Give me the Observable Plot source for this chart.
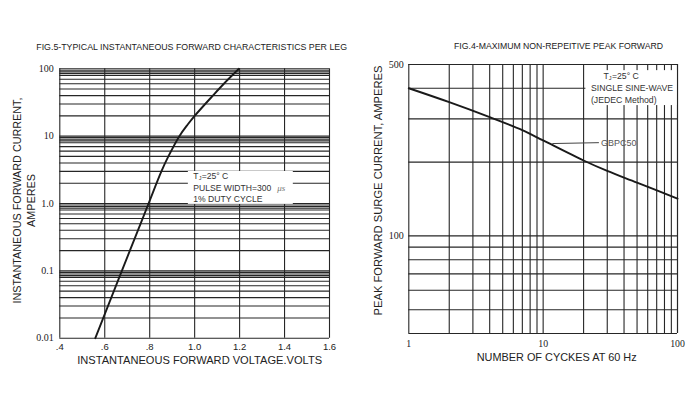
<!DOCTYPE html>
<html><head><meta charset="utf-8">
<script src="https://cdn.jsdelivr.net/npm/d3@7"></script>
<script src="https://cdn.jsdelivr.net/npm/@observablehq/plot@0.6"></script>
<style>
body{margin:0;background:#fff}
#wrap{position:relative;width:700px;height:404px;background:#fff}
#left,#right{position:absolute;top:0}
#left{left:0}#right{left:350px}
</style></head><body>
<div id="wrap"><div id="left"></div><div id="right"></div></div>
<script>
// ---- Fig.5 data ----
const voltage = [0.558, 0.676, 0.733, 0.795, 0.852, 0.883, 0.932, 0.970, 1.0, 1.081, 1.130, 1.197];
const current = [0.01, 0.1, 0.3, 1, 3, 5, 10, 15, 20, 40, 60, 100];
const leftXTicks = [0.4, 0.6, 0.8, 1.0, 1.2, 1.4, 1.6];
const leftXLabels = [".4", ".6", ".8", "1.0", "1.2", "1.4", "1.6"];
const leftYTicks = [0.01, 0.1, 1, 10, 100];
const leftYLabels = ["0.01", "0.1", "1.0", "10", "100"];
const leftDecades = [0.01, 0.1, 1, 10];
const leftGridMult = [1, 2, 3, 4, 5, 6, 7, 8, 8.5, 9, 9.5];

// ---- Fig.4 data ----
const cycles = [1, 2, 4, 7, 10, 20, 30, 50, 100];
const surge = [400, 351, 305, 270, 245, 203, 184, 165, 142];
const rightXTicks = [1, 10, 100];
const rightXLabels = ["1", "10", "100"];
const rightYTicks = [100, 500];
const rightYLabels = ["100", "500"];
const rightGridX = [1, 2, 3, 4, 5, 6, 7, 8, 9, 10, 20, 30, 40, 50, 60, 70, 80, 90, 100];
const rightGridY = [50, 60, 70, 80, 90, 100, 200, 300, 400, 500];

const sans = "'Liberation Sans', Arial, sans-serif";
const serif = "'Liberation Serif', 'Times New Roman', serif";
const gridCol = "#262626";
const txtCol = "#222";

const leftGridY = leftDecades.flatMap(d => leftGridMult.map(m => d * m)).concat([100]);
const leftCurve = voltage.map((v, i) => ({v, i: current[i]}));
const rightCurve = cycles.map((c, i) => ({c, s: surge[i]}));

const left = Plot.plot({
  width: 350, height: 404,
  marginLeft: 59.3, marginRight: 21, marginTop: 68.3, marginBottom: 66.3,
  x: {domain: [0.4, 1.6], axis: null},
  y: {type: "log", domain: [0.01, 100], axis: null},
  style: {fontFamily: sans, background: "white", color: txtCol},
  marks: [
    Plot.ruleX(leftXTicks, {stroke: gridCol, strokeWidth: 1.1}),
    Plot.ruleY(leftGridY, {stroke: gridCol, strokeWidth: 1.1}),
    Plot.rect([0], {x1: 0.972, x2: 1.439, y1: 0.97, y2: 2.99, fill: "white"}),
    Plot.line(leftCurve, {x: "v", y: "i", stroke: "#1a1a1a", strokeWidth: 1.9, curve: "catmull-rom"}),
    Plot.text(["T"], {x: 0.994, y: 2.52, textAnchor: "start", fontSize: 8.6, fill: "#333"}),
    Plot.text(["J"], {x: 0.994, y: 2.52, dx: 5.4, dy: 2, textAnchor: "start", fontSize: 5.5, fill: "#333"}),
    Plot.text(["=25° C"], {x: 0.994, y: 2.52, dx: 8.4, textAnchor: "start", fontSize: 8.6, fill: "#333"}),
    Plot.text(["PULSE WIDTH=300"], {x: 0.994, y: 2.52, dy: 11.8, textAnchor: "start", fontSize: 8.6, fill: "#333"}),
    Plot.text(["μs"], {x: 0.994, y: 2.52, dx: 84, dy: 11.8, textAnchor: "start", fontSize: 9, fontStyle: "italic", fontFamily: serif, fill: "#777"}),
    Plot.text(["1% DUTY CYCLE"], {x: 0.994, y: 2.52, dy: 23.2, textAnchor: "start", fontSize: 8.6, fill: "#333"}),
    Plot.text(leftYTicks, {y: d => d, text: leftYLabels, frameAnchor: "left", textAnchor: "end", lineAnchor: "middle", dx: -6, fontFamily: serif, fontSize: 10}),
    Plot.text(leftXTicks, {x: d => d, text: leftXLabels, frameAnchor: "bottom", lineAnchor: "middle", dy: 9, fontSize: 9.5}),
    Plot.text(["FIG.5-TYPICAL INSTANTANEOUS FORWARD CHARACTERISTICS PER LEG"], {frameAnchor: "top", textAnchor: "middle", lineAnchor: "middle", dy: -22, dx: -3, fontSize: 8.8}),
    Plot.text(["INSTANTANEOUS FORWARD CURRENT,"], {frameAnchor: "left", textAnchor: "middle", lineAnchor: "middle", rotate: -90, dx: -42.6, dy: -3, fontSize: 10.8}),
    Plot.text(["AMPERES"], {frameAnchor: "left", textAnchor: "middle", lineAnchor: "middle", rotate: -90, dx: -28.5, dy: -3, fontSize: 10.8}),
    Plot.text(["INSTANTANEOUS FORWARD VOLTAGE.VOLTS"], {frameAnchor: "bottom", textAnchor: "middle", lineAnchor: "middle", dy: 22.3, dx: 5, fontSize: 11.1})
  ]
});
document.getElementById("left").appendChild(left);

const right = Plot.plot({
  width: 350, height: 404,
  marginLeft: 58.3, marginRight: 23, marginTop: 64, marginBottom: 71,
  x: {type: "log", domain: [1, 100], axis: null},
  y: {type: "log", domain: [40, 500], axis: null},
  style: {fontFamily: sans, background: "white", color: txtCol},
  marks: [
    Plot.ruleX(rightGridX, {stroke: gridCol, strokeWidth: 1.1}),
    Plot.ruleY(rightGridY, {stroke: gridCol, strokeWidth: 1.1}),
    Plot.rect([0], {x1: 20.8, x2: 100, y1: 340, y2: 472, fill: "white"}),
    Plot.ruleX([100], {stroke: gridCol, strokeWidth: 1.1}),
    Plot.ruleY([40], {stroke: gridCol, strokeWidth: 1.1}),
    Plot.line(rightCurve, {x: "c", y: "s", stroke: "#1a1a1a", strokeWidth: 1.9, curve: "catmull-rom"}),
    Plot.link([0], {x1: 11.7, y1: 238, x2: 26, y2: 240, stroke: "#444", strokeWidth: 1}),
    Plot.text(["GBPC50"], {x: 26, y: 240, dx: 2, textAnchor: "start", fontSize: 9, fill: "#555"}),
    Plot.text(["T"], {x: 28.1, y: 447, textAnchor: "start", fontSize: 8.7, fill: "#333"}),
    Plot.text(["J"], {x: 28.1, y: 447, dx: 5.4, dy: 2, textAnchor: "start", fontSize: 5.6, fill: "#333"}),
    Plot.text(["=25° C"], {x: 28.1, y: 447, dx: 8.5, textAnchor: "start", fontSize: 8.7, fill: "#333"}),
    Plot.text(["SINGLE SINE-WAVE"], {x: 28.1, y: 447, dx: -12.5, dy: 12, textAnchor: "start", fontSize: 8.7, fill: "#333"}),
    Plot.text(["(JEDEC Method)"], {x: 28.1, y: 447, dx: -12.5, dy: 24, textAnchor: "start", fontSize: 8.7, fill: "#333"}),
    Plot.text(rightYTicks, {y: d => d, text: rightYLabels, frameAnchor: "left", textAnchor: "end", lineAnchor: "middle", dx: -5, fontFamily: serif, fontSize: 10}),
    Plot.text(rightXTicks, {x: d => d, text: rightXLabels, frameAnchor: "bottom", lineAnchor: "middle", dy: 10.3, fontFamily: serif, fontSize: 9.8}),
    Plot.text(["FIG.4-MAXIMUM NON-REPEITIVE PEAK FORWARD"], {frameAnchor: "top", textAnchor: "middle", lineAnchor: "middle", dy: -18, dx: 15.4, fontSize: 8.7}),
    Plot.text(["PEAK FORWARD SURGE CURRENT, AMPERES"], {frameAnchor: "left", textAnchor: "middle", lineAnchor: "middle", rotate: -90, dx: -30.3, dy: -8.5, fontSize: 11.2}),
    Plot.text(["NUMBER OF CYCKES AT 60 Hz"], {frameAnchor: "bottom", textAnchor: "middle", lineAnchor: "middle", dy: 24, dx: 13.5, fontSize: 10.9})
  ]
});
document.getElementById("right").appendChild(right);
</script>
</body></html>
